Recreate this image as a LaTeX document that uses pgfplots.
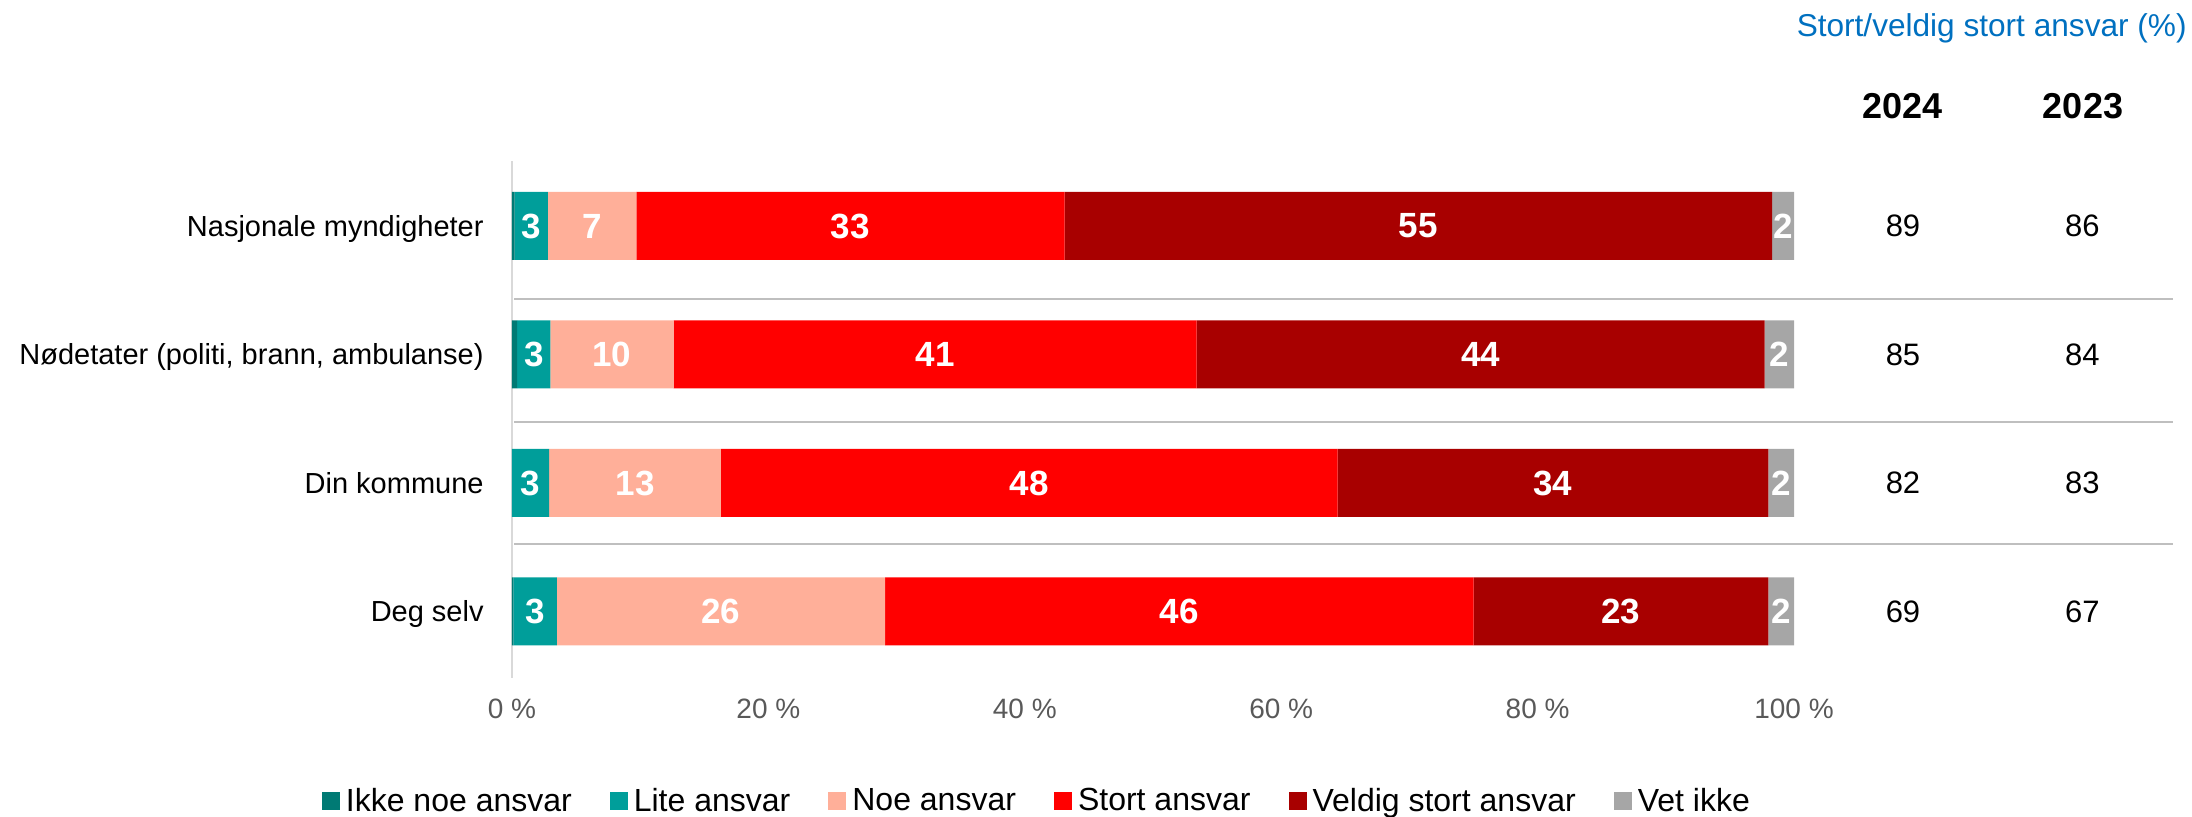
\documentclass[border=0pt]{standalone}
\usepackage{pgfplots}
\pgfplotsset{compat=1.18}
\usepackage{pgfplotstable}
\usepackage{fontspec}
\setmainfont{Liberation Sans}
\definecolor{cIkke}{HTML}{007A74}
\definecolor{cLite}{HTML}{009E9A}
\definecolor{cNoe}{HTML}{FFAF99}
\definecolor{cStort}{HTML}{FF0000}
\definecolor{cVeldig}{HTML}{A80000}
\definecolor{cVet}{HTML}{A6A6A6}
\definecolor{cTitle}{HTML}{0070C0}
\definecolor{cTick}{HTML}{595959}
\definecolor{cSep}{HTML}{BFBFBF}
\definecolor{cAxis}{HTML}{D9D9D9}

\pgfplotstableread{
y ikke lite noe stort veldig vet
3 0.2 2.6 6.9 33.4 55.2 1.7
2 0.4 2.6 9.6 40.8 44.3 2.3
1 0.0 2.9 13.4 48.1 33.6 2.0
0 0.1 3.4 25.6 45.9 23.0 2.0
}\datatable

\pgfplotstableread{
x y v
108.5 3 89
108.5 2 85
108.5 1 82
108.5 0 69
122.5 3 86
122.5 2 84
122.5 1 83
122.5 0 67
}\trendtable

\pgfplotsset{
  lbl/.style={
    nodes near coords={\pgfmathprintnumber[fixed,precision=0,assume math mode=true]{\pgfplotspointmeta}},
    point meta=explicit,
    every node near coord/.style={anchor=center, text=white,
      font=\fontsize{17.5pt}{20pt}\selectfont\bfseries, inner sep=0pt},
  },
  common/.style={
    scale only axis, width=641pt, height=258.5pt,
    at={(256pt,69.5pt)}, anchor=south west,
    xmin=0, xmax=100, ymin=-0.5175, ymax=3.5058,
    clip=false,
  }
}

\begin{document}
\begin{tikzpicture}
\path[use as bounding box] (0,0) rectangle (1096pt,408.5pt);
\begin{axis}[common,
  xbar stacked, bar width=34pt,
  axis x line*=bottom, axis y line*=left,
  x axis line style={draw=none},
  y axis line style={draw=cAxis, line width=1pt},
  major tick length=0pt,
  xtick={0,20,40,60,80,100},
  xticklabels={0 \%,20 \%,40 \%,60 \%,80 \%,100 \%},
  xticklabel style={font=\fontsize{14pt}{16pt}\selectfont, text=cTick, anchor=base, inner sep=0pt, yshift=-20.5pt},
  ytick={0,1,2,3},
  yticklabels={Deg selv, Din kommune, {Nødetater (politi, brann, ambulanse)}, Nasjonale myndigheter},
  yticklabel style={font=\fontsize{14.5pt}{17pt}\selectfont, anchor=base east, inner sep=0pt, xshift=-14pt, yshift=-5.2pt},
  legend columns=6,
  legend style={at={(0.411,-0.238)}, anchor=center, draw=none, fill=none, inner sep=0pt,
    font=\fontsize{16pt}{19pt}\selectfont, column sep=0pt,
    /tikz/every even column/.append style={column sep=16pt}, nodes={inner sep=3pt}},
  legend image code/.code={\draw[#1,draw=none] (0pt,-4.5pt) rectangle (9pt,4.5pt);},
]
\addplot[fill=cIkke, draw=none] table[x=ikke,y=y] \datatable;
\addplot[fill=cLite, draw=none, lbl] table[x=lite,y=y,meta=lite] \datatable;
\addplot[fill=cNoe, draw=none, lbl] table[x=noe,y=y,meta=noe] \datatable;
\addplot[fill=cStort, draw=none, lbl] table[x=stort,y=y,meta=stort] \datatable;
\addplot[fill=cVeldig, draw=none, lbl] table[x=veldig,y=y,meta=veldig] \datatable;
\addplot[fill=cVet, draw=none, lbl] table[x=vet,y=y,meta=vet] \datatable;
\legend{Ikke noe ansvar, Lite ansvar, Noe ansvar, Stort ansvar, Veldig stort ansvar, Vet ikke}
\draw[cSep, line width=1pt] (axis cs:0.16,2.432) -- (axis cs:129.56,2.432);
\draw[cSep, line width=1pt] (axis cs:0.16,1.475) -- (axis cs:129.56,1.475);
\draw[cSep, line width=1pt] (axis cs:0.16,0.525) -- (axis cs:129.56,0.525);
\end{axis}
\begin{axis}[common, hide axis]
\addplot[draw=none, nodes near coords, point meta=explicit symbolic,
  every node near coord/.append style={anchor=center, inner sep=0pt, font=\fontsize{15.5pt}{18pt}\selectfont}]
  table[x=x,y=y,meta=v] \trendtable;
\end{axis}
\node[anchor=base east, text=cTitle, font=\fontsize{15.8pt}{18pt}\selectfont, inner sep=0pt] at (1093.5pt,390pt) {Stort/veldig stort ansvar (\%)};
\node[anchor=base, font=\fontsize{18pt}{21pt}\selectfont\bfseries, inner sep=0pt] at (951.25pt,349.3pt) {2024};
\node[anchor=base, font=\fontsize{18pt}{21pt}\selectfont\bfseries, inner sep=0pt] at (1041.5pt,349.3pt) {2023};
\end{tikzpicture}
\end{document}
